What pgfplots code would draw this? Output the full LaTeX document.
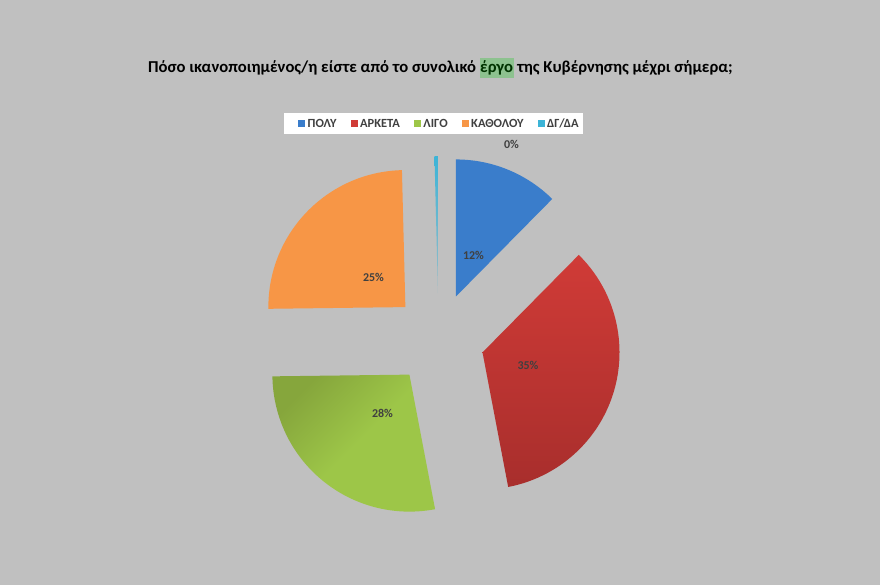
\documentclass[border=0pt]{standalone}
\usepackage{pgfplots}
\usepackage{pgfplotstable}
\usepackage{fontspec}
\setmainfont{Carlito}
\pgfplotsset{compat=1.18}

\definecolor{bggray}{HTML}{C0C0C0}
\definecolor{cblue}{HTML}{3A7DCB}
\definecolor{cred}{HTML}{D03B37}
\definecolor{credD}{HTML}{A82E2C}
\definecolor{cgreen}{HTML}{9DC648}
\definecolor{cgreenD}{HTML}{86A63C}
\definecolor{corange}{HTML}{F79646}
\definecolor{ccyan}{HTML}{3CB4D7}
\definecolor{hlgreen}{HTML}{8DC28F}
\definecolor{lbl}{HTML}{404040}

\tikzset{
  wblue/.style={fill=cblue},
  wred/.style={top color=cred, middle color=cred, bottom color=credD},
  wgreen/.style={top color=cgreenD, bottom color=cgreen, middle color=cgreen, shading angle=45},
  worange/.style={fill=corange},
  wcyan/.style={top color=ccyan, bottom color=ccyan!30!bggray},
  pct/.style={font=\bfseries\fontsize{12}{12}\selectfont, text=lbl, inner sep=0pt},
}
\pgfplotsset{
  legsq/.style={legend image code/.code={\fill[draw=none,##1] (0bp,0.5bp) rectangle (7bp,7.3bp);}},
}

% share in %, style, label position (pixels from top left)
\pgfplotstableread{
name    value sty     lx    ly
ΠΟΛΥ    12.4  wblue   473.5 255
ΑΡΚΕΤΑ  34.6  wred    528   365
ΛΙΓΟ    27.8  wgreen  382.5 413
ΚΑΘΟΛΟΥ 24.8  worange 373.5 277
ΔΓ/ΔΑ   0.4   wcyan   511.5 144
}\piedata

% build the exploded wedges, clockwise from 12 o'clock
\def\piecmds{}
\def\cum{90}
\pgfplotsforeachungrouped \i in {0,...,4}{%
  \pgfplotstablegetelem{\i}{value}\of\piedata \let\wval\pgfplotsretval
  \pgfplotstablegetelem{\i}{sty}\of\piedata \let\wsty\pgfplotsretval
  \pgfplotstablegetelem{\i}{lx}\of\piedata \let\wlx\pgfplotsretval
  \pgfplotstablegetelem{\i}{ly}\of\piedata \let\wly\pgfplotsretval
  \pgfmathsetmacro\sweep{3.6*\wval}
  \pgfmathsetmacro\endang{\cum-\sweep}
  \pgfmathsetmacro\midang{\cum-\sweep/2}
  \pgfmathsetmacro\ax{438.5+46*cos(\midang)}
  \pgfmathsetmacro\ay{246+46*sin(\midang)}
  \pgfmathsetmacro\lyy{585-\wly}
  \pgfmathtruncatemacro\wpct{round(\wval)}
  \xdef\piecmds{\unexpanded\expandafter{\piecmds}%
    \noexpand\path[\wsty] (axis cs:\ax,\ay) -- ++(\cum:137bp)
      arc[start angle=\cum, end angle=\endang, radius=137bp] -- cycle;
    \noexpand\node[pct] at (axis cs:\wlx,\lyy) {\wpct\noexpand\%};}%
  \global\let\cum\endang
}

\begin{document}
\begin{tikzpicture}
\begin{axis}[
  scale only axis,
  width=880bp, height=585bp,
  xmin=0, xmax=880, ymin=0, ymax=585,
  hide axis,
  clip=false,
  legend columns=5,
  legend style={
    at={(298/880,461/585)}, anchor=west,
    fill=none, draw=none,
    font=\bfseries\fontsize{12.5}{12.5}\selectfont, text=lbl,
    inner sep=0pt,
    nodes={inner sep=0pt, anchor=base west},
    /tikz/every odd column/.append style={column sep=2.5bp},
    /tikz/every even column/.append style={column sep=14bp},
  },
]
\fill[bggray] (axis cs:0,0) rectangle (axis cs:880,585);
\fill[white] (axis cs:284,451) rectangle (axis cs:583,472);

\node[font=\bfseries\fontsize{16.7}{16.7}\selectfont, inner sep=0pt] at (axis cs:440.5,517)
  {Πόσο ικανοποιημένος/η είστε από το συνολικό \colorbox{hlgreen}{\hspace{-2.6pt}\textcolor{black!80!green}{έργο}\hspace{-2.6pt}} της Κυβέρνησης μέχρι σήμερα;};

\piecmds

\addlegendimage{legsq, fill=cblue}
\addlegendentry{ΠΟΛΥ}
\addlegendimage{legsq, fill=cred}
\addlegendentry{ΑΡΚΕΤΑ}
\addlegendimage{legsq, fill=cgreen}
\addlegendentry{ΛΙΓΟ}
\addlegendimage{legsq, fill=corange}
\addlegendentry{ΚΑΘΟΛΟΥ}
\addlegendimage{legsq, fill=ccyan}
\addlegendentry{ΔΓ/ΔΑ}
\end{axis}
\end{tikzpicture}
\end{document}
